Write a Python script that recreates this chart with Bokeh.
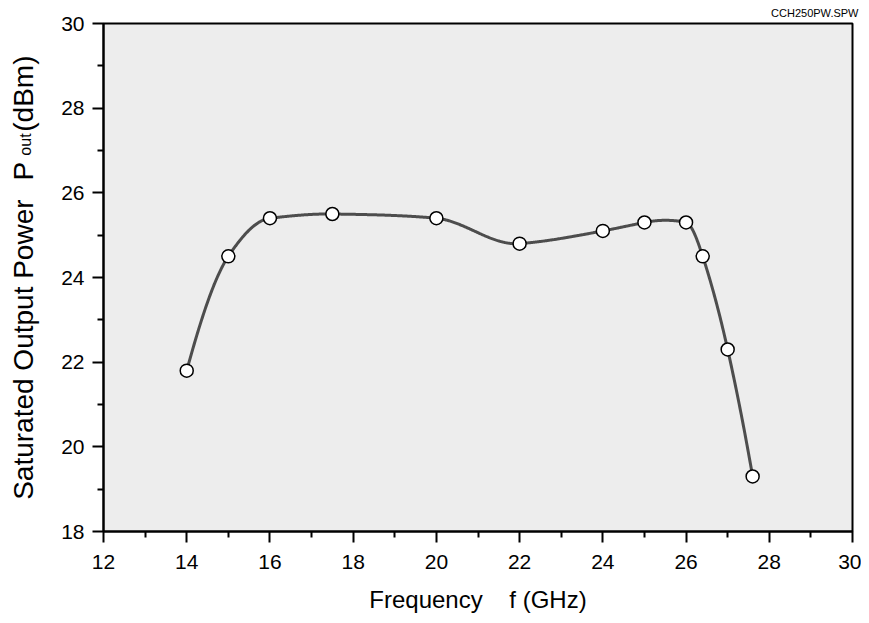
import numpy as np
from bokeh.plotting import figure
from bokeh.layouts import row
from bokeh.models import Range1d, FixedTicker, Title
from bokeh.core.properties import value
from bokeh.embed import file_html
from bokeh.resources import INLINE

# ---- data ----
freq = [14, 15, 16, 17.5, 20, 22, 24, 25, 26, 26.4, 27, 27.6]
pout = [21.8, 24.5, 25.4, 25.5, 25.4, 24.8, 25.1, 25.3, 25.3, 24.5, 22.3, 19.3]
x_major = [12, 14, 16, 18, 20, 22, 24, 26, 28, 30]
x_minor = [13, 15, 17, 19, 21, 23, 25, 27, 29]
y_major = [18, 20, 22, 24, 26, 28, 30]
y_minor = [19, 21, 23, 25, 27, 29]


def akima(x, y, n=800):
    x = np.asarray(x, float)
    y = np.asarray(y, float)
    h = np.diff(x)
    m = np.diff(y) / h
    mm = np.concatenate([[3 * m[0] - 2 * m[1], 2 * m[0] - m[1]], m,
                         [2 * m[-1] - m[-2], 3 * m[-1] - 2 * m[-2]]])
    dm = np.abs(np.diff(mm))
    w1 = dm[2:]
    w2 = dm[:-2]
    den = w1 + w2
    safe = np.where(den > 1e-12, den, 1)
    t = np.where(den > 1e-12, (w1 * mm[1:-2] + w2 * mm[2:-1]) / safe,
                 0.5 * (mm[1:-2] + mm[2:-1]))
    xs = np.linspace(x[0], x[-1], n)
    idx = np.clip(np.searchsorted(x, xs) - 1, 0, len(x) - 2)
    hh = h[idx]
    s = (xs - x[idx]) / hh
    h00 = 2 * s ** 3 - 3 * s ** 2 + 1
    h10 = s ** 3 - 2 * s ** 2 + s
    h01 = -2 * s ** 3 + 3 * s ** 2
    h11 = s ** 3 - s ** 2
    ys = h00 * y[idx] + h10 * hh * t[idx] + h01 * y[idx + 1] + h11 * hh * t[idx + 1]
    return xs, ys


FONT = "Liberation Sans"
X0, X1, Y0, Y1 = 12, 30, 18, 30
W, H = 861, 615
LW = 50                      # width of the side panel carrying the y-axis title
FL, FT, FW, FH = 103, 23, 749, 508  # frame placement on the page
MW = W - LW

p = figure(width=MW, height=H, x_range=Range1d(X0, X1), y_range=Range1d(Y0, Y1),
           output_backend="svg", toolbar_location=None,
           min_border_left=FL - LW, min_border_top=FT,
           min_border_right=MW - (FL - LW) - FW, min_border_bottom=H - FT - FH)
p.background_fill_color = "#ededed"
p.border_fill_color = "white"
p.outline_line_color = "black"
p.outline_line_width = 2
p.xgrid.visible = False
p.ygrid.visible = False

for ax, maj, mnr in ((p.xaxis[0], x_major, x_minor), (p.yaxis[0], y_major, y_minor)):
    ax.ticker = FixedTicker(ticks=maj, minor_ticks=mnr)
    ax.axis_line_width = 2
    ax.axis_line_color = "black"
    ax.major_tick_in = 0
    ax.major_tick_out = 11
    ax.minor_tick_in = 0
    ax.minor_tick_out = 6
    ax.major_tick_line_width = 2
    ax.minor_tick_line_width = 2
    ax.major_label_text_font = FONT
    ax.major_label_text_font_size = "21px"
    ax.major_label_text_color = "black"
p.xaxis.major_label_standoff = 12
p.yaxis.major_label_standoff = 8

p.xaxis.axis_label = "Frequency\u00a0\u00a0\u00a0\u00a0f (GHz)"
p.xaxis.axis_label_text_font = FONT
p.xaxis.axis_label_text_font_size = "24px"
p.xaxis.axis_label_text_font_style = "normal"
p.xaxis.axis_label_text_color = "black"
p.xaxis.axis_label_standoff = 14

t = Title(text="CCH250PW.SPW", align="right", text_font=FONT, text_font_size="11px",
          text_font_style="normal", text_color="black", offset=-6, standoff=9)
p.add_layout(t, "above")

xs, ys = akima(freq, pout)
p.line(xs, ys, line_color="#4d4d4d", line_width=3)
p.scatter(freq, pout, size=13, marker="circle", fill_color="white", line_color="black", line_width=1.5)

# side panel with the y-axis title (pixel coordinates)
q = figure(width=LW, height=H, x_range=Range1d(0, LW), y_range=Range1d(0, H),
           output_backend="svg", toolbar_location=None,
           x_axis_location=None, y_axis_location=None,
           min_border_left=0, min_border_right=0, min_border_top=0, min_border_bottom=0)
q.outline_line_color = None
q.background_fill_color = "white"
q.border_fill_color = "white"
q.xgrid.visible = False
q.ygrid.visible = False

ang = np.pi / 2
q.text(x=[23], y=[H - 213], text=["Saturated Output Power"], angle=ang,
       text_align="right", text_baseline="alphabetic",
       text_font=value(FONT), text_font_size="28px", text_color="black")
q.text(x=[23], y=[H - 190], text=["P"], angle=ang,
       text_align="left", text_baseline="alphabetic",
       text_font=value(FONT), text_font_size="28px", text_color="black")
q.text(x=[25], y=[H - 160], text=["out"], angle=ang,
       text_align="left", text_baseline="alphabetic",
       text_font=value(FONT), text_font_size="16px", text_color="black")
q.text(x=[23], y=[H - 131], text=["(dBm)"], angle=ang,
       text_align="left", text_baseline="alphabetic",
       text_font=value(FONT), text_font_size="28px", text_color="black")

layout = row(q, p, spacing=0)
open("out.html", "w").write(file_html(layout, INLINE))
